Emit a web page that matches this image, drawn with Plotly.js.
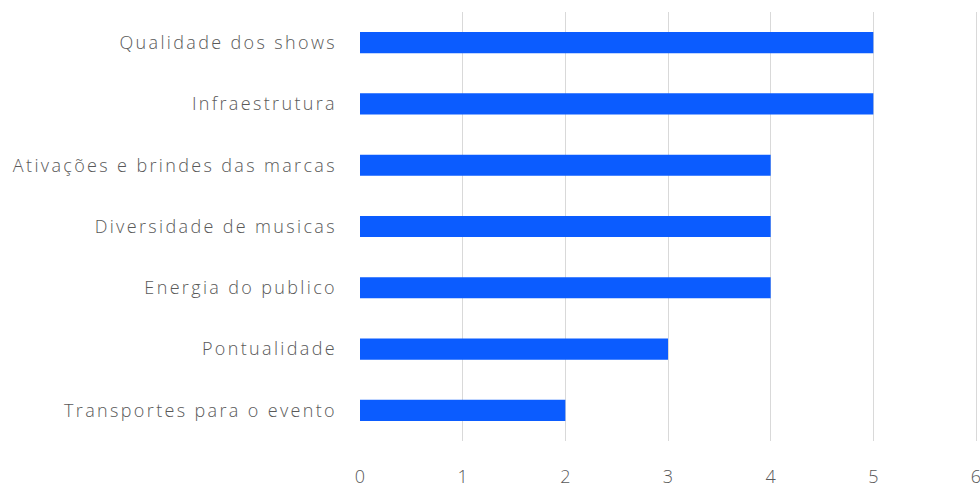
<!DOCTYPE html>
<html>
<head>
<meta charset="utf-8">
<script src="https://cdn.plot.ly/plotly-3.0.1.min.js"></script>
<style>
html,body{margin:0;padding:0;background:#fff;}
#chart{width:980px;height:488px;}
#chart .ytick text{letter-spacing:2.35px;}
</style>
</head>
<body>
<div id="chart"></div>
<script>
const categories = [
  "Transportes para o evento",
  "Pontualidade",
  "Energia do publico",
  "Diversidade de musicas",
  "Ativações e brindes das marcas",
  "Infraestrutura",
  "Qualidade dos shows"
];
const values = [2, 3, 4, 4, 4, 5, 5];
const xTicks = [0, 1, 2, 3, 4, 5, 6];

const trace = {
  type: "bar",
  orientation: "h",
  y: categories,
  x: values,
  marker: { color: "#0b5cff" },
  hoverinfo: "x+y"
};

const layout = {
  width: 980,
  height: 488,
  margin: { l: 360, r: 0, t: 12, b: 47 },
  paper_bgcolor: "#ffffff",
  plot_bgcolor: "#ffffff",
  bargap: 0.655,
  showlegend: false,
  font: { family: "Open Sans, sans-serif", size: 18, color: "#595959", weight: 300 },
  xaxis: {
    range: [0, 6 * 620 / 616],
    tickvals: xTicks,
    ticktext: xTicks.map(String),
    showgrid: true,
    gridcolor: "#d9d9d9",
    gridwidth: 1,
    zeroline: false,
    showline: false,
    ticks: "",
    ticklabelstandoff: 23,
    ticklabeloverflow: "allow",
    tickfont: { size: 18, color: "#595959", weight: 300 },
    fixedrange: true
  },
  yaxis: {
    type: "category",
    showgrid: false,
    zeroline: false,
    showline: false,
    ticks: "",
    ticklabelstandoff: 22,
    tickfont: { size: 18, color: "#595959", weight: 300 },
    fixedrange: true
  }
};

Plotly.newPlot("chart", [trace], layout, { displayModeBar: false, staticPlot: true });
</script>
</body>
</html>
